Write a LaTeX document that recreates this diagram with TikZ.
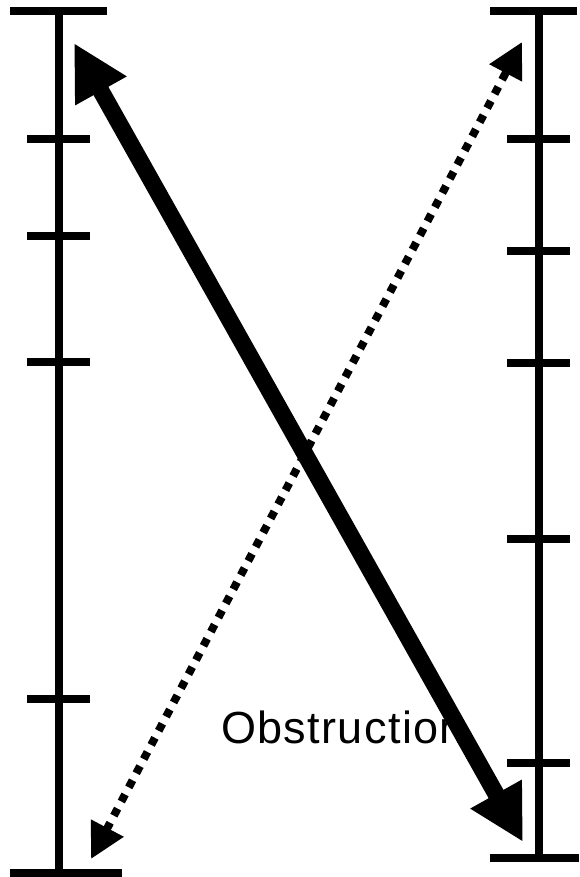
\documentclass[tikz,border=0pt]{standalone}
\usepackage{fontspec}
\newfontfamily\labelfont[LetterSpace=3]{Liberation Sans}
\usetikzlibrary{arrows.meta}
\def\wRuler{8pt}
\def\wStrong{17pt}
\def\wDots{8pt}
\tikzset{
  ruler/.style={draw=black, line width=\wRuler},
  path-solid/.style={draw=black, line width=\wStrong,
    {Triangle[length=55pt, width=55pt]}-{Triangle[length=55pt, width=55pt]}},
  path-dotted/.style={draw=black, line width=\wDots, dash pattern=on 8pt off 8pt,
    {Triangle[length=35pt, width=35pt]}-{Triangle[length=35pt, width=35pt]}},
  lbl/.style={font=\labelfont\fontsize{45}{54}\selectfont, inner sep=0pt, anchor=base west},
}

\begin{document}
\begin{tikzpicture}[x=1pt, y=-1pt]
\useasboundingbox (0,0) rectangle (579,877);
% one unit = one pixel of the 579 x 877 frame, y grows downwards

% ---- left ruler
\draw[ruler] (59,11) -- (59,873);
\draw[ruler] (10,11) -- (107,11);
\draw[ruler] (10,873) -- (122,873);
\draw[ruler] (27,139) -- (90,139);
\draw[ruler] (27,236) -- (90,236);
\draw[ruler] (27,362) -- (90,362);
\draw[ruler] (27,699) -- (90,699);

% ---- right ruler
\draw[ruler] (539,11) -- (539,858);
\draw[ruler] (490,11) -- (577,11);
\draw[ruler] (490,858) -- (579,858);
\draw[ruler] (507,139) -- (570,139);
\draw[ruler] (507,251) -- (570,251);
\draw[ruler] (507,363) -- (570,363);
\draw[ruler] (507,539) -- (570,539);
\draw[ruler] (507,763) -- (570,763);

% ---- end points of the two paths
\coordinate (solidTop) at (74,43);
\coordinate (solidBot) at (523,842);
\coordinate (dotBot) at (91,859);
\coordinate (dotTop) at (522,42);

% ---- dotted path, label, then the solid path on top
\draw[path-dotted] (dotBot) -- (dotTop);
\node[lbl] (obst) at (221,743) {Obstruction};
\draw[path-solid] (solidTop) -- (solidBot);
\end{tikzpicture}
\end{document}
